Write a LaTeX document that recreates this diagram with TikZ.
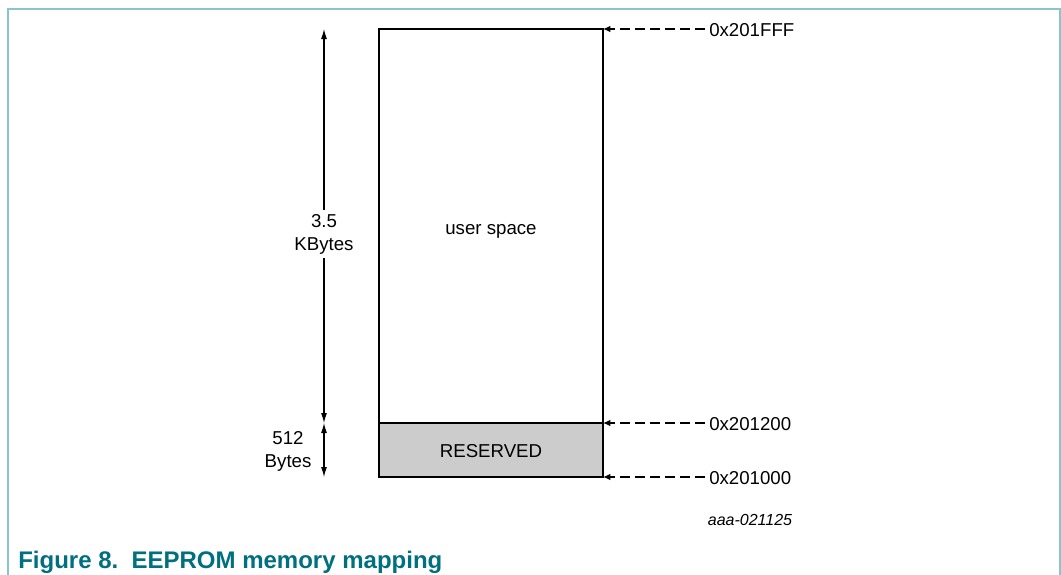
\documentclass[tikz,border=0pt]{standalone}
\usepackage{fontspec}
\setmainfont{Liberation Sans}
\usetikzlibrary{arrows.meta}
\definecolor{framec}{RGB}{140,196,204}
\definecolor{capc}{RGB}{0,111,128}
\definecolor{resc}{RGB}{204,204,204}
\tikzset{
  lbl/.style={font=\fontsize{14pt}{17.25pt}\selectfont, inner sep=1pt},
  dimarrow/.style={line width=0.8pt, {Latex[length=7.5pt,width=4.5pt]}-{Latex[length=7.5pt,width=4.5pt]}},
  ptr/.style={line width=1pt, dash pattern=on 7.5pt off 3.75pt, -{Latex[length=5.5pt,width=5pt]}},
  memblock/.style={line width=0.9pt, draw=black}
}
\begin{document}
\begin{tikzpicture}[x=0.75pt,y=-0.75pt]
\useasboundingbox (0,0) rectangle (1061,575);
% frame
\draw[framec, line width=1.2pt] (8,575) -- (8,9) -- (1060,9) -- (1060,575);
% memory blocks
\coordinate (tl) at (379,29);
\coordinate (tr) at (603,29);
\coordinate (ml) at (379,423);
\coordinate (mr) at (603,423);
\coordinate (bl) at (379,477);
\coordinate (br) at (603,477);
\fill[resc] (ml) rectangle (br);
\draw[memblock] (tl) rectangle (br);
\draw[memblock] (ml) -- (mr);
\node[lbl] (us) at (491,231) {user space};
\node[lbl] (res) at (491,451) {RESERVED};
% dimension arrows
\coordinate (d1) at (324,29);
\coordinate (d2) at (324,423);
\coordinate (d3) at (324,477);
\draw[dimarrow] (d1) -- (d2);
\draw[dimarrow] (d2) -- (d3);
\node[lbl, fill=white, align=center, inner sep=3pt] (kb) at (324,234) {3.5\\KBytes};
\node[lbl, align=center, anchor=east] (by) at (313,451) {512\\Bytes};
% address pointers
\node[lbl, anchor=west, inner sep=3pt] (a1) at (705,30) {0x201FFF};
\node[lbl, anchor=west, inner sep=3pt] (a2) at (705,424) {0x201200};
\node[lbl, anchor=west, inner sep=3pt] (a3) at (705,478) {0x201000};
\draw[ptr] (a1.west |- tr) -- (tr);
\draw[ptr] (a2.west |- mr) -- (mr);
\draw[ptr] (a3.west |- br) -- (br);
% figure id
\node[font=\fontsize{12pt}{14pt}\selectfont\itshape, inner sep=0pt] (fid) at (750,520) {aaa-021125};
% caption
\node[anchor=base west, inner sep=0pt, text=capc, font=\fontsize{18pt}{20pt}\selectfont\bfseries] (cap) at (18,568) {Figure 8.\ \ EEPROM memory mapping};
\end{tikzpicture}
\end{document}
